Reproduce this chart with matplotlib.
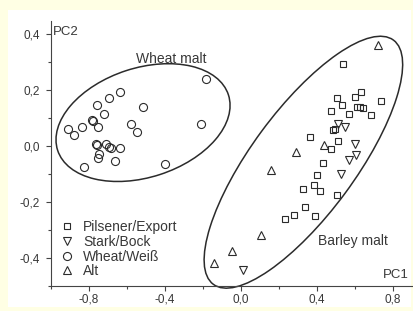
import matplotlib
matplotlib.use("Agg")
import matplotlib.pyplot as plt
import matplotlib.ticker as mticker
from matplotlib.patches import Ellipse, Rectangle
from matplotlib.transforms import Affine2D

plt.rcParams["font.family"] = ["Liberation Sans", "DejaVu Sans"]

# PCA scores
pils_x = [0.538, 0.634, 0.604, 0.510, 0.739, 0.534, 0.615, 0.630, 0.647, 0.569,
          0.478, 0.685, 0.488, 0.497, 0.364, 0.513, 0.478, 0.432, 0.401, 0.389,
          0.418, 0.329, 0.510, 0.338, 0.282, 0.234, 0.394]
pils_y = [0.295, 0.195, 0.177, 0.172, 0.162, 0.146, 0.141, 0.139, 0.136, 0.115,
          0.127, 0.110, 0.058, 0.062, 0.031, 0.019, -0.011, -0.060, -0.103, -0.139,
          -0.160, -0.154, -0.177, -0.220, -0.247, -0.260, -0.251]

bock_x = [0.513, 0.552, 0.601, 0.608, 0.569, 0.527, 0.011]
bock_y = [0.079, 0.067, 0.007, -0.032, -0.051, -0.102, -0.444]

weiss_x = [-0.183, -0.210, -0.511, -0.634, -0.694, -0.755, -0.718, -0.782, -0.777,
           -0.750, -0.832, -0.875, -0.910, -0.578, -0.545, -0.759, -0.755, -0.708,
           -0.690, -0.684, -0.634, -0.745, -0.752, -0.824, -0.662, -0.397]
weiss_y = [0.240, 0.078, 0.140, 0.194, 0.172, 0.146, 0.115, 0.095, 0.091,
           0.067, 0.069, 0.039, 0.060, 0.078, 0.049, 0.008, 0.004, 0.007,
           -0.004, -0.006, -0.008, -0.030, -0.042, -0.074, -0.055, -0.065]

alt_x = [0.724, 0.441, 0.294, 0.161, 0.108, -0.046, -0.139]
alt_y = [0.361, 0.002, -0.020, -0.086, -0.320, -0.375, -0.421]

# group ellipses: centre (data), full axes in PC1 units, tilt in degrees on screen
wheat_ell = (-0.513, 0.084, 0.945, 0.575, 18.0)
barley_ell = (0.331, -0.058, 1.597, 0.547, 53.6)

INK = "#2b2b2b"
TXT = "#383838"
W, H = 413, 311
fig = plt.figure(figsize=(W / 100, H / 100), dpi=100, facecolor="#FFFFE4")
fig.add_artist(Rectangle((8 / W, 4.3 / H), 402.7 / W, 296.7 / H,
                         transform=fig.transFigure, facecolor="white",
                         edgecolor="none", zorder=-10))

left, right, top, bottom = 50.5, 411.5, 20.5, 285.5
ax = fig.add_axes([left / W, (H - bottom) / H, (right - left) / W, (bottom - top) / H])
ax.set_facecolor("none")
ax.set_xlim(-1.0, 0.9)
ax.set_ylim(-0.5, 0.45)

mk = dict(ls="none", mfc="none", mec=INK, mew=0.8)
ax.plot(pils_x, pils_y, marker="s", ms=5.0, label="Pilsener/Export", **mk)
ax.plot(bock_x, bock_y, marker="v", ms=6.2, label="Stark/Bock", **mk)
ax.plot(weiss_x, weiss_y, marker="o", ms=5.8, label="Wheat/Weiß", **mk)
ax.plot(alt_x, alt_y, marker="^", ms=6.2, label="Alt", **mk)

# keep the ellipses round on screen although the axes are not equal
k = ((bottom - top) / 0.95) / ((right - left) / 1.9)
iso = Affine2D().scale(1, 1 / k) + ax.transData
for cx, cy, w, h, ang in (wheat_ell, barley_ell):
    ax.add_patch(Ellipse((cx, cy * k), w, h, angle=ang, transform=iso,
                         fill=False, ec=INK, lw=1.1, clip_on=False))

ax.text(-0.985, 0.409, "PC2", ha="left", va="center", fontsize=9.5, color=TXT)
ax.text(0.883, -0.462, "PC1", ha="right", va="center", fontsize=9.5, color=TXT)
ax.text(-0.362, 0.311, "Wheat malt", ha="center", va="center", fontsize=10, color=TXT)
ax.text(0.590, -0.339, "Barley malt", ha="center", va="center", fontsize=10, color=TXT)

ax.legend(loc="lower left", bbox_to_anchor=(0.006, 0.0), frameon=False,
          fontsize=10, labelspacing=0.05, handlelength=1.0, handletextpad=0.68,
          borderaxespad=0.12, labelcolor=TXT)

for s in ("top", "right"):
    ax.spines[s].set_visible(False)
for s in ("left", "bottom"):
    ax.spines[s].set_color("#444")
    ax.spines[s].set_linewidth(0.8)

fmt = mticker.FuncFormatter(lambda v, _: ("0,0" if abs(v) < 1e-9 else f"{v:.1f}".replace(".", ",")))
ax.xaxis.set_major_locator(mticker.FixedLocator([-0.8, -0.4, 0.0, 0.4, 0.8]))
ax.xaxis.set_minor_locator(mticker.FixedLocator([-1.0, -0.6, -0.2, 0.2, 0.6]))
ax.yaxis.set_major_locator(mticker.FixedLocator([-0.4, -0.2, 0.0, 0.2, 0.4]))
ax.yaxis.set_minor_locator(mticker.FixedLocator([-0.5, -0.3, -0.1, 0.1, 0.3]))
ax.xaxis.set_major_formatter(fmt)
ax.yaxis.set_major_formatter(fmt)
ax.tick_params(which="major", direction="out", length=3.8, width=0.8, color="#444",
               labelsize=8.5, labelcolor=TXT, pad=2)
ax.tick_params(axis="y", which="major", pad=4)
ax.tick_params(which="minor", direction="out", length=2.5, width=0.8, color="#444")

fig.savefig("out.png", dpi=100, facecolor=fig.get_facecolor())
